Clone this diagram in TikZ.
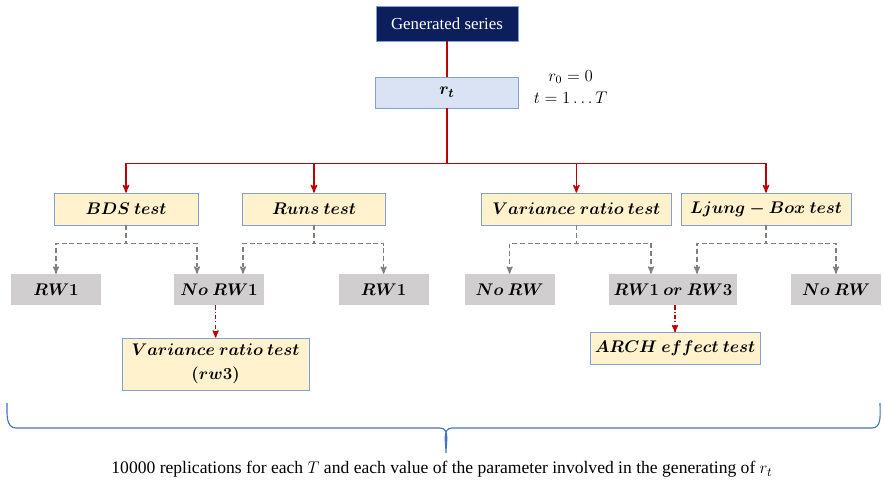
\documentclass[tikz,border=0pt]{standalone}
\usepackage{fontspec}
\setmainfont{Liberation Serif}
\usepackage{amsmath}
\usetikzlibrary{positioning, arrows}
\definecolor{navy}{RGB}{12,30,92}
\definecolor{lineblue}{RGB}{130,160,215}
\definecolor{paleblue}{RGB}{218,227,243}
\definecolor{paleyellow}{RGB}{255,242,204}
\definecolor{boxgray}{RGB}{208,206,206}
\definecolor{darkred}{RGB}{192,0,0}
\definecolor{bracecol}{RGB}{68,114,196}
\tikzset{
>=stealth', % makes the arrow heads bold
node distance=3cm, % default distance between node centres
topbox/.style={draw=lineblue, fill=navy, text=white, minimum width=3.55cm, minimum height=0.875cm, font=\fontsize{12}{14}\selectfont}, % the title box
seriesbox/.style={draw=lineblue, fill=paleblue, minimum width=3.575cm, minimum height=0.775cm, font=\fontsize{12.5}{14}\selectfont\boldmath}, % the series box
testbox/.style={draw=lineblue, fill=paleyellow, minimum height=0.8cm, font=\fontsize{12}{17}\selectfont\boldmath}, % yellow test boxes
resultbox/.style={fill=boxgray, minimum width=2.25cm, minimum height=0.775cm, font=\fontsize{12}{14}\selectfont\boldmath}, % grey outcome boxes
redlink/.style={draw=darkred, line width=1pt}, % red connectors
graylink/.style={draw=gray, line width=0.9pt, dash pattern=on 3.5pt off 2pt, ->}, % dashed outcome arrows
dotlink/.style={draw=darkred, line width=0.9pt, dash pattern=on 3pt off 1.5pt on 0.8pt off 1.5pt, ->}, % dash-dot follow-up arrows
}
\begin{document}
\begin{tikzpicture}
\useasboundingbox (0,0) rectangle (22.1,-12.1);
\node[topbox] (gen) at (11.175,-0.5875) {Generated series};
\node[seriesbox, below of=gen, node distance=1.725cm] (rt) {$r_t$};
\node[right of=rt, node distance=3.09cm, yshift=0.38cm, font=\fontsize{11.5}{13}\selectfont] (r0) {$r_0 = 0$};
\node[below of=r0, node distance=0.52cm, font=\fontsize{11.5}{13}\selectfont] (tT) {$t = 1 \ldots T$};
% tests
\node[testbox, minimum width=3.6cm] (bds) at (3.15,-5.225) {$BDS\ test$};
\node[testbox, minimum width=3.575cm, right of=bds, node distance=4.7cm] (runs) {$Runs\ test$};
\node[testbox, minimum width=4.75cm, right of=runs, node distance=6.56cm] (vr) {$Variance\ ratio\ test$};
\node[testbox, minimum width=4.25cm, right of=vr, node distance=4.74cm] (lb) {$Ljung - Box\ test$};
% outcomes
\node[resultbox] (rw1a) at (1.4,-7.24) {$RW1$};
\node[resultbox, right of=rw1a, node distance=4.075cm] (norw1) {$No\ RW1$};
\node[resultbox, right of=norw1, node distance=4.115cm] (rw1b) {$RW1$};
\node[resultbox, right of=rw1b, node distance=3.15cm] (norwa) {$No\ RW$};
\node[resultbox, minimum width=3.2cm, right of=norwa, node distance=4.085cm] (rw13) {$RW1\ or\ RW3$};
\node[resultbox, right of=rw13, node distance=4.075cm] (norwb) {$No\ RW$};
% follow-up tests
\node[testbox, minimum width=4.675cm, minimum height=1.3cm, align=center, below of=norw1, node distance=1.86cm, xshift=-0.085cm] (vr3) {$Variance\ ratio\ test$\\$(rw3)$};
\node[testbox, minimum width=3.95cm, below of=rw13, node distance=1.475cm, xshift=0.05cm] (arch) {$ARCH\ effect\ test$};
% red tree
\draw[redlink] (gen) -- (rt);
\draw[redlink] (rt.south) -- ++(0,-1.375) coordinate (bus);
\draw[redlink] (bus -| bds.north) -- (bus -| lb.north);
\foreach \t in {bds,runs,vr,lb}
    \draw[redlink,->] (bus -| \t.north) -- (\t.north);
% grey dashed outcomes
\draw[graylink] (bds.south) -- ++(0,-0.45) -| (rw1a.north);
\draw[graylink] (bds.south) -- ++(0,-0.45) -| ([xshift=-0.55cm]norw1.north);
\draw[graylink] (runs.south) -- ++(0,-0.45) -| ([xshift=0.6cm]norw1.north);
\draw[graylink] (runs.south) -- ++(0,-0.45) -| (rw1b.north);
\draw[graylink] (vr.south) -- ++(0,-0.45) -| (norwa.north);
\draw[graylink] (vr.south) -- ++(0,-0.45) -| ([xshift=-0.55cm]rw13.north);
\draw[graylink] (lb.south) -- ++(0,-0.45) -| ([xshift=0.6cm]rw13.north);
\draw[graylink] (lb.south) -- ++(0,-0.45) -| (norwb.north);
% dash-dot follow-ups
\draw[dotlink] (norw1.south -| vr3.north) -- (vr3.north);
\draw[dotlink] (rw13.south -| arch.north) -- (arch.north);
% bottom brace
\draw[bracecol, line width=0.8pt] (0.175,-10.08) to[out=-90,in=180] (0.4,-10.7) -- (11.0,-10.7) to[out=0,in=90] (11.15,-11.32) to[out=90,in=180] (11.3,-10.7) -- (21.8,-10.7) to[out=0,in=-90] (22.0,-10.08);
\node[font=\fontsize{12.5}{14}\selectfont] (note) at (11.05,-11.73) {10000 replications for each $T$ and each value of the parameter involved in the generating of $r_t$};
\end{tikzpicture}
\end{document}
